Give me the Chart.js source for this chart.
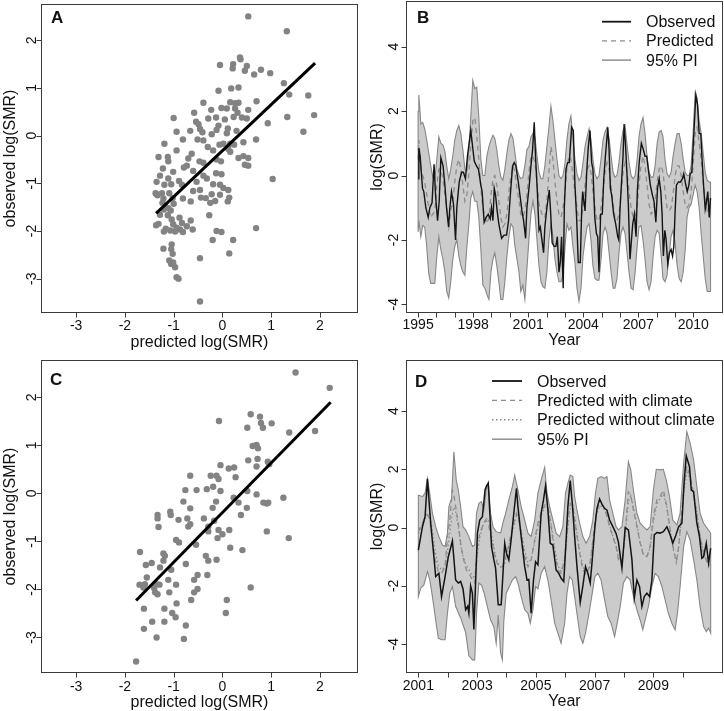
<!DOCTYPE html>
<html>
<head>
<meta charset="utf-8">
<script src="https://cdn.jsdelivr.net/npm/chart.js@4.4.1/dist/chart.umd.min.js"></script>
<style>
  html, body { margin:0; padding:0; background:#fff; }
  #page { position:relative; width:724px; height:711px; overflow:hidden; background:#fff; }
  #page canvas { position:absolute; }
</style>
</head>
<body>
<div id="page">
  <canvas id="chartA" width="362" height="355" style="left:0px;top:0px"></canvas>
  <canvas id="chartB" width="362" height="355" style="left:362px;top:0px"></canvas>
  <canvas id="chartC" width="362" height="356" style="left:0px;top:355px"></canvas>
  <canvas id="chartD" width="362" height="356" style="left:362px;top:355px"></canvas>
</div>
<script>
// ---------------- DATA ----------------
// Panel A: [predicted log(SMR), observed log(SMR)]
const scatterA = [[0.53,2.50],[1.32,2.19],[0.36,1.64],[-0.05,1.48],[0.22,1.50],[0.21,1.41],[0.37,1.60],[0.50,1.46],[0.46,1.36],[0.79,1.38],[0.98,1.31],[0.65,1.28],[1.26,1.10],[0.33,1.01],[0.18,0.99],[-0.08,0.94],[1.37,0.86],[1.76,0.84],[0.70,0.72],[0.16,0.70],[0.26,0.68],[0.33,0.69],[-0.39,0.69],[-0.58,0.48],[-0.23,0.54],[-0.02,0.58],[0.09,0.57],[0.26,0.57],[0.53,0.54],[0.31,0.48],[-1.00,0.37],[1.33,0.39],[1.88,0.43],[0.93,0.26],[1.66,0.08],[0.40,0.38],[0.50,0.36],[0.23,0.39],[0.05,0.34],[-0.13,0.38],[-0.29,0.36],[-0.54,0.29],[-0.49,0.24],[-0.46,0.14],[-0.08,0.21],[0.11,0.15],[-0.66,0.10],[-0.94,0.08],[-0.41,0.07],[-0.22,0.03],[-0.12,0.12],[0.09,0.05],[0.29,0.10],[0.69,-0.08],[-1.19,-0.17],[-0.81,-0.08],[-0.51,-0.08],[-0.39,-0.10],[-0.06,-0.19],[0.02,-0.17],[0.16,-0.17],[0.24,-0.19],[0.43,-0.14],[-0.30,-0.24],[-0.19,-0.31],[0.12,-0.28],[0.16,-0.34],[-0.63,-0.38],[-0.94,-0.31],[-1.31,-0.45],[-1.12,-0.45],[-1.11,-0.54],[-0.70,-0.48],[-0.47,-0.54],[-0.39,-0.57],[-0.12,-0.50],[-0.03,-0.54],[0.33,-0.47],[0.43,-0.43],[0.53,-0.47],[0.46,-0.61],[0.53,-0.63],[-1.22,-0.69],[-1.01,-0.76],[-0.79,-0.67],[-0.73,-0.63],[-0.60,-0.74],[-0.13,-0.79],[-0.02,-0.81],[-0.39,-0.84],[-0.32,-0.90],[1.03,-0.91],[-1.28,-0.84],[-1.11,-0.90],[-0.89,-0.95],[-1.35,-0.97],[-1.19,-1.03],[-1.05,-1.02],[-0.83,-1.03],[-0.53,-0.97],[-0.19,-1.02],[-0.05,-1.03],[0.02,-1.10],[0.12,-1.14],[-0.60,-1.16],[-0.46,-1.14],[-1.09,-1.21],[-1.24,-1.21],[-1.35,-1.23],[-1.21,-1.32],[-1.02,-1.31],[-0.81,-1.32],[-0.65,-1.38],[-0.22,-1.23],[-0.05,-1.24],[0.14,-1.30],[0.11,-1.38],[-0.44,-1.30],[-0.34,-1.31],[-0.25,-1.41],[-0.15,-1.37],[-1.23,-1.41],[-1.18,-1.48],[-1.11,-1.52],[-1.00,-1.43],[-1.28,-1.66],[-1.06,-1.57],[-1.31,-1.85],[-1.36,-1.88],[-1.20,-1.55],[-1.04,-1.76],[-1.01,-1.86],[-0.88,-1.72],[-0.83,-1.83],[-0.73,-1.90],[-0.65,-1.78],[-0.94,-1.93],[-0.87,-1.97],[-0.81,-2.02],[-0.97,-2.01],[-1.07,-1.99],[-1.16,-1.95],[-1.20,-2.01],[-0.61,-1.97],[-0.27,-1.67],[-0.12,-2.00],[-0.02,-2.02],[-0.20,-2.19],[0.22,-2.19],[0.69,-1.94],[-1.21,-2.37],[-1.04,-2.28],[-1.05,-2.38],[-1.02,-2.48],[-0.46,-2.57],[0.14,-2.47],[-1.05,-2.69],[-1.01,-2.66],[-0.97,-2.76],[-0.94,-2.97],[-0.90,-3.00],[-0.46,-3.48],[-1.09,-2.62],[-1.33,-1.25],[-1.12,-1.67],[-1.37,-1.21]];
const fitA = { intercept: -0.316, slope: 0.966, from: -1.36, to: 1.90 };

// Panel C: [predicted log(SMR), observed log(SMR)]
const scatterC = [[1.50,2.52],[2.20,2.20],[0.58,1.65],[0.77,1.60],[-0.07,1.51],[0.79,1.47],[1.01,1.46],[0.51,1.37],[0.83,1.37],[1.37,1.27],[1.90,1.30],[0.62,0.99],[0.70,1.01],[0.73,0.94],[0.53,0.69],[0.72,0.72],[0.93,0.66],[0.96,0.61],[0.70,0.56],[-0.04,0.59],[0.13,0.52],[0.24,0.54],[-0.66,0.37],[-0.24,0.37],[-0.12,0.37],[-0.08,0.30],[0.27,0.34],[-0.19,0.14],[-0.32,0.09],[-0.76,0.07],[-0.53,0.07],[-0.04,0.05],[0.51,0.05],[1.25,-0.09],[0.70,-0.02],[0.23,-0.09],[0.33,-0.19],[0.84,-0.19],[0.91,-0.21],[0.94,-0.19],[-0.80,-0.17],[-0.13,-0.17],[-0.66,-0.31],[-0.20,-0.30],[0.50,-0.30],[0.38,-0.45],[-1.33,-0.45],[-1.33,-0.52],[-1.07,-0.38],[-1.06,-0.45],[-0.38,-0.52],[-0.17,-0.57],[-0.72,-0.52],[-1.31,-0.70],[-0.70,-0.69],[-0.66,-0.64],[-0.29,-0.69],[-0.08,-0.76],[0.14,-0.76],[0.91,-0.79],[1.36,-0.93],[-0.29,-0.79],[-0.90,-0.55],[-0.10,-0.93],[0.00,-0.85],[-0.95,-0.97],[-0.89,-1.02],[-0.54,-1.07],[0.16,-1.13],[0.41,-1.18],[-0.34,-1.30],[-0.12,-1.38],[-0.29,-1.40],[-1.69,-1.22],[-1.21,-1.25],[-1.18,-1.30],[-0.75,-1.47],[-1.57,-1.49],[-1.45,-1.45],[-1.21,-1.40],[-1.28,-1.54],[-1.05,-1.59],[-0.51,-1.70],[-0.31,-1.70],[-1.55,-1.75],[-1.59,-1.89],[-1.62,-1.96],[-1.35,-1.89],[-1.29,-1.90],[-1.11,-1.80],[-0.95,-1.90],[-1.40,-1.97],[-1.38,-2.06],[-1.33,-2.10],[-1.09,-2.06],[-0.58,-1.80],[-0.58,-2.06],[-0.51,-1.99],[0.58,-1.96],[-0.64,-2.22],[0.09,-2.22],[-0.94,-2.29],[-1.61,-2.40],[-1.19,-2.40],[-1.03,-2.49],[-0.96,-2.58],[-1.19,-2.67],[-1.44,-2.67],[-1.61,-2.82],[-0.75,-2.75],[0.07,-2.49],[-1.35,-3.00],[-0.79,-3.03],[-1.77,-3.50],[-1.70,-1.90]];
const fitC = { intercept: -0.398, slope: 1.035, from: -1.77, to: 2.22 };

// Panel B: observed [year, log(SMR)]
const observedB = [[1995.00,-0.10],[1995.04,0.85],[1995.11,0.60],[1995.24,-0.40],[1995.31,-0.50],[1995.42,-1.00],[1995.55,-1.30],[1995.64,-1.00],[1995.76,-0.85],[1995.87,0.35],[1995.95,-0.60],[1996.06,-1.40],[1996.15,-0.80],[1996.24,0.55],[1996.36,0.30],[1996.46,-0.30],[1996.55,-1.00],[1996.66,-1.60],[1996.73,-1.00],[1996.82,-0.50],[1996.93,-0.90],[1997.04,-2.00],[1997.11,-1.00],[1997.24,-0.20],[1997.37,0.10],[1997.47,0.10],[1997.58,-0.10],[1997.69,0.60],[1997.87,1.40],[1997.97,0.90],[1998.06,0.45],[1998.18,0.30],[1998.29,0.20],[1998.42,-0.30],[1998.49,-0.50],[1998.60,-1.45],[1998.71,-1.30],[1998.82,-1.20],[1998.93,-1.35],[1999.00,-1.00],[1999.08,-1.40],[1999.15,-0.40],[1999.22,-0.60],[1999.31,-1.10],[1999.40,-1.50],[1999.55,-1.95],[1999.69,-1.85],[1999.82,-1.85],[1999.93,-1.40],[2000.04,-0.50],[2000.15,0.30],[2000.24,0.40],[2000.33,0.30],[2000.46,-0.20],[2000.55,-0.60],[2000.66,-1.10],[2000.75,-1.40],[2000.86,-1.95],[2000.93,-1.00],[2001.06,-0.30],[2001.15,0.30],[2001.24,0.80],[2001.33,1.65],[2001.40,0.60],[2001.50,-0.50],[2001.59,-1.70],[2001.66,-1.60],[2001.75,-2.00],[2001.84,-2.40],[2001.91,-1.60],[2002.02,-1.00],[2002.15,-0.45],[2002.22,-1.10],[2002.31,-2.10],[2002.42,-2.20],[2002.51,-2.20],[2002.59,-1.90],[2002.68,-3.00],[2002.75,-2.70],[2002.82,-1.90],[2002.91,-3.50],[2002.97,-1.00],[2003.06,0.20],[2003.15,0.40],[2003.24,0.40],[2003.37,1.50],[2003.46,1.40],[2003.55,-0.30],[2003.64,-1.30],[2003.73,-2.70],[2003.84,-2.70],[2003.92,-1.00],[2003.97,-0.50],[2004.10,-1.10],[2004.19,0.10],[2004.28,0.90],[2004.37,1.40],[2004.46,0.40],[2004.53,0.20],[2004.63,-1.30],[2004.72,-1.80],[2004.79,-1.90],[2004.86,-3.00],[2004.95,-1.20],[2005.04,-1.20],[2005.12,-0.10],[2005.21,0.60],[2005.34,1.50],[2005.41,0.80],[2005.48,-0.40],[2005.55,-0.60],[2005.66,-1.20],[2005.77,-1.50],[2005.88,-1.90],[2005.94,-2.00],[2006.01,-1.00],[2006.08,-0.30],[2006.17,0.60],[2006.23,1.60],[2006.30,1.00],[2006.39,0.00],[2006.46,-0.90],[2006.55,-2.60],[2006.63,-2.00],[2006.70,-1.50],[2006.79,-1.20],[2006.88,-1.90],[2006.95,-0.50],[2007.05,0.40],[2007.17,1.00],[2007.28,0.80],[2007.37,0.60],[2007.46,0.60],[2007.57,0.10],[2007.66,-0.30],[2007.77,-0.60],[2007.86,-0.80],[2007.96,-1.45],[2008.05,-0.40],[2008.14,-0.10],[2008.23,-0.50],[2008.30,-1.20],[2008.37,-2.50],[2008.45,-1.70],[2008.52,-2.00],[2008.61,-2.75],[2008.70,-2.40],[2008.79,-2.30],[2008.87,-2.50],[2008.94,-2.20],[2009.01,-1.10],[2009.08,-0.30],[2009.19,-0.20],[2009.30,-0.20],[2009.41,-0.10],[2009.48,0.05],[2009.56,-0.20],[2009.67,-0.50],[2009.76,-0.30],[2009.83,0.05],[2009.92,0.10],[2010.03,1.30],[2010.14,2.50],[2010.23,2.20],[2010.32,1.30],[2010.41,1.30],[2010.48,0.50],[2010.56,-0.30],[2010.65,-1.05],[2010.70,-0.90],[2010.79,-0.50],[2010.87,-1.30],[2010.94,-0.70]];

// Panel B: predicted and 95% PI, read on a common time grid
const timeB = [1995.00,1995.04,1995.15,1995.25,1995.36,1995.47,1995.58,1995.69,1995.80,1995.91,1996.02,1996.13,1996.24,1996.35,1996.46,1996.56,1996.67,1996.78,1996.89,1997.00,1997.11,1997.22,1997.33,1997.44,1997.55,1997.66,1997.77,1997.87,1997.98,1998.09,1998.20,1998.31,1998.42,1998.53,1998.64,1998.75,1998.86,1998.97,1999.08,1999.18,1999.29,1999.40,1999.51,1999.62,1999.73,1999.84,1999.95,2000.06,2000.17,2000.28,2000.39,2000.50,2000.60,2000.71,2000.82,2000.93,2001.04,2001.15,2001.26,2001.37,2001.48,2001.59,2001.70,2001.80,2001.91,2002.02,2002.13,2002.24,2002.35,2002.46,2002.57,2002.68,2002.79,2002.90,2003.01,2003.11,2003.22,2003.33,2003.44,2003.55,2003.66,2003.77,2003.88,2003.99,2004.10,2004.21,2004.32,2004.42,2004.53,2004.64,2004.75,2004.86,2004.97,2005.08,2005.19,2005.30,2005.41,2005.52,2005.63,2005.73,2005.84,2005.95,2006.06,2006.17,2006.28,2006.39,2006.50,2006.61,2006.72,2006.83,2006.94,2007.04,2007.15,2007.26,2007.37,2007.48,2007.59,2007.70,2007.81,2007.92,2008.03,2008.14,2008.25,2008.35,2008.46,2008.57,2008.68,2008.79,2008.90,2009.01,2009.12,2009.23,2009.34,2009.45,2009.56,2009.66,2009.77,2009.88,2009.99,2010.10,2010.21,2010.32,2010.43,2010.54,2010.65,2010.76,2010.87,2010.94];
const predictedB = [0.5,1.1,0.2,0.0,-0.2,-0.6,-1.0,-1.3,-1.2,-1.1,-0.3,0.2,0.2,-0.1,-0.6,-1.0,-1.6,-1.1,-0.8,-0.2,0.3,0.5,0.2,-0.3,-0.8,-0.6,0.1,0.9,1.7,1.8,1.2,0.5,-0.4,-1.0,-1.3,-1.5,-1.3,-0.6,-0.1,0.0,-0.3,-0.8,-1.3,-1.6,-1.5,-1.2,-0.5,0.0,0.3,0.1,-0.4,-0.8,-1.2,-1.3,-1.1,-0.6,0.1,0.6,0.6,0.4,-0.2,-0.9,-1.1,-1.3,-1.3,-0.8,0.1,0.9,0.5,-0.2,-0.8,-1.2,-1.3,-1.0,-0.5,0.2,0.6,0.5,0.0,-0.5,-1.0,-1.4,-1.4,-1.0,-0.3,0.2,0.3,0.1,-0.5,-1.0,-1.4,-1.4,-1.0,-0.5,0.1,0.4,0.2,-0.3,-0.9,-1.3,-1.4,-1.2,-0.6,0.1,0.4,0.1,-0.5,-1.0,-1.3,-1.3,-1.0,-0.3,0.3,0.6,0.3,-0.3,-0.9,-1.2,-1.1,-0.8,-0.2,0.2,0.3,0.1,-0.5,-1.0,-1.1,-1.0,-0.6,0.0,0.3,0.3,0.0,-0.5,-0.9,-1.0,-0.9,-0.5,0.3,1.3,1.5,1.0,0.5,-0.2,-0.8,-1.1,-1.2,-1.2];
const upperB = [2.0,2.5,1.6,1.65,1.45,1.1,0.7,0.3,-0.05,-0.1,0.5,1.2,1.0,0.95,0.75,0.3,-0.1,0.2,0.6,1.1,1.4,1.55,1.3,0.8,0.2,0.15,0.8,1.8,2.95,2.7,2.75,1.8,0.5,0.0,0.0,0.6,0.9,1.1,1.25,1.15,0.8,0.3,-0.05,-0.15,0.2,0.7,1.1,1.3,1.15,0.7,0.2,0.0,-0.1,-0.05,0.3,0.8,0.9,1.2,1.3,1.2,0.6,0.1,-0.1,-0.1,0.3,0.9,1.5,2.15,1.7,1.1,0.5,0.0,-0.1,0.0,0.4,1.1,1.6,1.85,1.15,0.5,0.05,-0.15,-0.05,0.4,0.9,1.2,1.45,1.1,0.5,0.05,-0.1,0.0,0.5,1.1,1.35,1.5,1.15,0.6,0.1,-0.05,0.0,0.4,1.0,1.4,1.55,0.95,0.4,0.0,-0.1,0.0,0.5,1.2,1.6,1.8,1.3,0.6,0.1,-0.05,-0.05,0.3,1.0,1.35,1.4,1.2,0.5,0.05,-0.05,0.1,0.6,1.0,1.3,1.3,1.0,0.5,0.1,0.0,0.0,0.3,1.3,2.55,2.4,1.7,1.3,0.7,0.1,-0.15,-0.2,-0.2];
const lowerB = [-1.75,-1.4,-1.9,-1.55,-1.6,-2.2,-3.05,-3.35,-3.35,-3.35,-2.5,-1.9,-2.3,-2.6,-3.0,-3.6,-3.8,-3.3,-2.6,-2.2,-2.0,-2.5,-2.8,-3.0,-3.1,-2.2,-1.5,-0.7,-0.5,-0.8,-0.8,-1.3,-2.3,-3.4,-3.5,-3.7,-3.85,-3.0,-2.6,-2.4,-2.8,-3.3,-3.85,-3.85,-3.3,-2.5,-1.9,-1.5,-1.6,-2.2,-2.6,-3.0,-3.6,-3.4,-3.85,-2.9,-2.0,-1.2,-0.8,-1.2,-2.0,-2.8,-3.3,-3.45,-3.5,-3.0,-2.0,-1.5,-1.9,-2.6,-3.0,-3.3,-3.3,-3.1,-2.2,-1.5,-1.7,-1.6,-2.2,-2.7,-3.5,-3.9,-3.5,-2.5,-2.0,-1.6,-1.5,-2.0,-2.8,-3.2,-3.25,-3.25,-2.6,-1.8,-1.6,-1.8,-2.4,-3.0,-3.5,-3.5,-3.2,-2.4,-1.8,-1.6,-1.8,-2.4,-3.0,-3.5,-3.55,-3.0,-2.2,-1.6,-1.55,-2.0,-2.6,-3.3,-3.55,-3.3,-2.5,-1.9,-1.7,-1.8,-2.5,-3.2,-3.3,-3.1,-2.5,-1.9,-1.7,-2.1,-2.8,-3.2,-3.3,-3.0,-2.3,-1.3,-1.0,-0.9,-0.6,-0.3,-0.5,-1.0,-1.8,-2.5,-3.2,-3.6,-3.6,-3.6];

// Panel D: observed [year, log(SMR)]
const observedD = [[2001.00,-0.77],[2001.14,0.03],[2001.23,0.38],[2001.31,1.67],[2001.42,0.15],[2001.53,-1.0],[2001.59,-1.68],[2001.65,-1.62],[2001.70,-1.57],[2001.79,-2.37],[2001.91,-1.68],[2002.02,-1.0],[2002.16,-0.46],[2002.27,-1.8],[2002.36,-1.9],[2002.44,-1.85],[2002.52,-2.1],[2002.61,-2.82],[2002.68,-2.7],[2002.72,-2.94],[2002.78,-2.0],[2002.84,-2.25],[2002.89,-3.5],[2003.01,-0.2],[2003.09,0.26],[2003.18,0.37],[2003.27,1.29],[2003.32,1.43],[2003.38,1.52],[2003.44,0.38],[2003.49,-0.65],[2003.57,-1.1],[2003.63,-1.4],[2003.72,-2.65],[2003.82,-2.65],[2003.94,-0.54],[2004.00,-0.88],[2004.08,-1.11],[2004.17,-0.31],[2004.25,0.5],[2004.34,1.35],[2004.39,0.72],[2004.50,-0.31],[2004.62,-1.34],[2004.70,-1.8],[2004.76,-1.78],[2004.84,-2.94],[2004.92,-1.8],[2004.99,-1.17],[2005.07,-1.28],[2005.18,0.49],[2005.26,0.95],[2005.33,1.43],[2005.41,0.6],[2005.49,-0.54],[2005.58,-0.6],[2005.69,-1.45],[2005.78,-1.57],[2005.86,-1.74],[2005.95,-1.85],[2006.03,-0.42],[2006.09,0.72],[2006.17,1.61],[2006.24,0.83],[2006.32,-0.31],[2006.40,-1.34],[2006.51,-2.57],[2006.60,-2.0],[2006.69,-1.34],[2006.77,-1.57],[2006.85,-1.9],[2006.92,-1.1],[2007.01,0.03],[2007.08,0.66],[2007.17,0.98],[2007.26,0.78],[2007.34,0.66],[2007.42,0.6],[2007.51,0.26],[2007.62,0.03],[2007.73,-0.2],[2007.81,-0.5],[2007.93,-1.39],[2008.04,0.0],[2008.15,-0.08],[2008.27,-1.1],[2008.35,-2.42],[2008.44,-1.8],[2008.53,-2.03],[2008.61,-2.71],[2008.69,-2.37],[2008.78,-2.25],[2008.87,-2.37],[2008.95,-1.8],[2009.03,-0.25],[2009.12,-0.17],[2009.23,-0.19],[2009.34,-0.14],[2009.46,0.03],[2009.55,-0.19],[2009.66,-0.54],[2009.75,-0.31],[2009.86,0.03],[2009.97,0.15],[2010.05,1.63],[2010.12,2.46],[2010.23,2.09],[2010.29,1.29],[2010.37,1.23],[2010.48,0.15],[2010.57,-0.31],[2010.65,-1.05],[2010.71,-1.0],[2010.80,-0.54],[2010.88,-1.22],[2010.95,-0.71]];

// Panel D: predictions (with / without climate) on a common time grid
const timePredD = [2001.00,2001.08,2001.19,2001.31,2001.39,2001.48,2001.57,2001.68,2001.79,2001.91,2001.99,2002.07,2002.16,2002.21,2002.27,2002.36,2002.44,2002.52,2002.63,2002.75,2002.84,2002.92,2003.01,2003.09,2003.18,2003.29,2003.38,2003.46,2003.54,2003.63,2003.74,2003.86,2003.95,2004.03,2004.14,2004.25,2004.34,2004.42,2004.50,2004.62,2004.73,2004.84,2004.96,2005.07,2005.18,2005.30,2005.41,2005.52,2005.64,2005.75,2005.86,2005.98,2006.09,2006.17,2006.26,2006.37,2006.49,2006.60,2006.71,2006.83,2006.94,2007.05,2007.17,2007.28,2007.39,2007.51,2007.62,2007.73,2007.81,2007.93,2008.04,2008.15,2008.23,2008.32,2008.44,2008.55,2008.66,2008.78,2008.89,2009.00,2009.12,2009.23,2009.34,2009.46,2009.57,2009.69,2009.78,2009.86,2009.97,2010.05,2010.14,2010.25,2010.37,2010.48,2010.59,2010.71,2010.82,2010.95];
const predWithClimateD = [-0.14,0.03,0.26,0.43,0.30,-0.42,-1.10,-1.50,-1.57,-1.34,-0.31,0.26,1.29,1.12,0.72,0.15,-0.54,-1.00,-1.45,-1.62,-1.80,-1.90,-0.65,-0.20,0.03,0.26,0.15,-0.25,-0.65,-1.10,-1.34,-1.34,-1.10,-0.80,-0.31,0.15,0.49,0.26,-0.19,-1.00,-1.34,-1.10,-0.42,0.15,0.49,0.78,0.72,0.03,-0.88,-1.45,-1.57,-1.10,0.15,0.83,0.72,-0.08,-0.88,-1.45,-1.62,-1.34,-0.42,0.49,0.83,0.78,0.49,0.03,-0.31,-0.65,-1.10,-1.28,-0.19,1.23,1.12,0.60,0.03,-0.54,-0.94,-1.00,-0.65,0.38,0.95,1.06,1.29,0.72,-0.08,-0.77,-1.17,-0.65,0.60,1.52,2.11,1.75,1.18,0.49,-0.31,-0.88,-1.17,-1.34];
const predWithoutClimateD = [-0.20,0.00,0.20,0.50,0.45,-0.10,-0.80,-1.30,-1.45,-1.35,-0.80,-0.20,0.50,0.70,0.55,0.00,-0.60,-1.00,-1.30,-1.50,-1.65,-1.75,-0.90,-0.35,0.00,0.30,0.30,-0.10,-0.50,-1.00,-1.30,-1.40,-1.20,-0.90,-0.40,0.05,0.40,0.30,-0.10,-0.80,-1.20,-1.10,-0.50,0.05,0.40,0.70,0.70,0.10,-0.70,-1.30,-1.50,-1.10,0.00,0.70,0.75,0.00,-0.80,-1.35,-1.55,-1.35,-0.50,0.40,0.75,0.70,0.50,0.10,-0.30,-0.60,-1.00,-1.20,-0.30,0.90,1.10,0.70,0.10,-0.50,-0.90,-1.00,-0.70,0.20,0.80,1.00,1.15,0.70,-0.10,-0.80,-1.20,-0.70,0.50,1.30,1.90,1.70,1.10,0.50,-0.30,-0.85,-1.15,-1.30];

// Panel D: 95% PI bounds [year, log(SMR)]
const upperD = [[2001.00,1.12],[2001.14,1.06],[2001.23,1.18],[2001.31,1.69],[2001.39,1.15],[2001.48,0.49],[2001.59,0.03],[2001.70,-0.31],[2001.82,-0.6],[2001.91,-0.65],[2001.99,-0.2],[2002.04,0.72],[2002.13,1.0],[2002.21,2.6],[2002.29,1.63],[2002.36,1.29],[2002.44,0.72],[2002.52,0.03],[2002.61,-0.08],[2002.72,-0.31],[2002.84,-0.65],[2002.92,-0.6],[2002.98,0.49],[2003.06,0.83],[2003.15,0.89],[2003.23,0.6],[2003.31,1.29],[2003.38,1.55],[2003.46,0.49],[2003.54,0.03],[2003.65,-0.14],[2003.80,-0.19],[2003.89,0.2],[2003.97,0.49],[2004.08,0.95],[2004.20,1.4],[2004.28,1.8],[2004.39,1.29],[2004.50,0.72],[2004.62,0.26],[2004.73,-0.19],[2004.84,-0.31],[2004.96,0.26],[2005.07,1.18],[2005.18,1.63],[2005.30,2.07],[2005.38,1.18],[2005.47,0.72],[2005.58,0.26],[2005.69,-0.19],[2005.81,-0.31],[2005.92,0.03],[2006.01,1.18],[2006.09,1.52],[2006.17,1.8],[2006.26,1.75],[2006.32,1.06],[2006.40,0.6],[2006.49,0.15],[2006.60,-0.31],[2006.71,-0.54],[2006.83,-0.31],[2006.94,0.26],[2007.03,1.18],[2007.11,1.69],[2007.22,1.75],[2007.34,1.69],[2007.42,1.75],[2007.51,0.95],[2007.62,0.49],[2007.73,0.03],[2007.81,-0.08],[2007.93,0.03],[2008.04,0.95],[2008.15,2.26],[2008.23,1.98],[2008.32,1.29],[2008.44,0.49],[2008.55,0.15],[2008.66,0.03],[2008.78,-0.08],[2008.89,0.03],[2009.00,1.29],[2009.10,2.0],[2009.23,1.98],[2009.34,2.0],[2009.44,1.63],[2009.55,1.06],[2009.66,0.26],[2009.80,0.09],[2009.91,0.49],[2010.03,2.2],[2010.14,3.29],[2010.25,2.9],[2010.37,2.32],[2010.48,1.4],[2010.59,0.49],[2010.71,0.15],[2010.95,-0.19]];
const lowerD = [[2001.00,-2.37],[2001.08,-2.08],[2001.19,-1.97],[2001.31,-1.51],[2001.39,-1.80],[2001.48,-2.37],[2001.59,-3.17],[2001.68,-3.79],[2001.79,-3.85],[2001.91,-3.85],[2001.99,-2.94],[2002.07,-2.25],[2002.16,-2.02],[2002.27,-2.70],[2002.44,-3.10],[2002.61,-3.60],[2002.72,-4.40],[2002.84,-4.54],[2002.92,-4.54],[2002.98,-2.94],[2003.06,-1.90],[2003.15,-1.97],[2003.24,-2.25],[2003.35,-2.71],[2003.46,-3.17],[2003.57,-3.40],[2003.65,-3.97],[2003.72,-3.00],[2003.80,-4.30],[2003.86,-4.54],[2003.91,-3.20],[2003.99,-2.25],[2004.11,-2.00],[2004.20,-1.80],[2004.31,-1.68],[2004.39,-1.90],[2004.50,-2.37],[2004.62,-2.82],[2004.73,-2.94],[2004.81,-3.28],[2004.90,-2.82],[2004.99,-2.02],[2005.07,-2.10],[2005.18,-1.57],[2005.30,-1.34],[2005.41,-1.80],[2005.52,-2.48],[2005.64,-3.28],[2005.75,-3.62],[2005.86,-3.97],[2005.98,-3.28],[2006.06,-2.25],[2006.15,-1.68],[2006.24,-1.80],[2006.32,-2.37],[2006.43,-3.17],[2006.51,-3.74],[2006.60,-3.97],[2006.69,-3.62],[2006.81,-2.94],[2006.92,-2.25],[2007.01,-1.68],[2007.11,-1.57],[2007.22,-1.80],[2007.34,-2.48],[2007.45,-3.05],[2007.56,-3.28],[2007.68,-3.74],[2007.79,-3.17],[2007.87,-2.71],[2007.98,-1.90],[2008.10,-1.68],[2008.21,-1.80],[2008.32,-2.35],[2008.44,-2.82],[2008.55,-3.17],[2008.64,-3.51],[2008.72,-3.17],[2008.83,-2.71],[2008.95,-2.02],[2009.06,-1.57],[2009.17,-1.68],[2009.29,-2.02],[2009.40,-2.48],[2009.51,-2.94],[2009.63,-3.28],[2009.74,-3.51],[2009.82,-2.94],[2009.91,-2.02],[2010.03,-0.65],[2010.14,-0.14],[2010.25,-0.42],[2010.37,-1.10],[2010.48,-1.80],[2010.59,-2.71],[2010.71,-3.40],[2010.80,-3.57],[2010.88,-3.45],[2010.95,-3.62]];

// Axis ticks / labels
const scatterTicks = [-3,-2,-1,0,1,2];
const seriesYTicks = [-4,-2,0,2,4];
const yearTicksB = [1995,1996,1997,1998,1999,2000,2001,2002,2003,2004,2005,2006,2007,2008,2009,2010];
const yearLabelsB = [1995,1998,2001,2004,2007,2010];
const yearTicksD = [2001,2002,2003,2004,2005,2006,2007,2008,2009,2010];
const yearLabelsD = [2001,2003,2005,2007,2009];

// ---------------- STYLE ----------------
const FONT = '"Liberation Sans", Arial, Helvetica, sans-serif';
const FRAME = '#3a3a3a';
const TEXT = '#111111';
const OBS_COLOR = '#141414';
const PRED_COLOR = '#8c8c8c';
const BAND_FILL = '#cbcbcb';
const BAND_LINE = '#878787';
const DOT_COLOR = '#838383';

const toXY = arr => arr.map(p => ({x: p[0], y: p[1]}));
const zipXY = (xs, ys) => xs.map((x, i) => ({x: x, y: ys[i]}));
const fitLine = f => [{x: f.from, y: f.intercept + f.slope * f.from}, {x: f.to, y: f.intercept + f.slope * f.to}];
const polygon = (up, lo) => { const p = up.concat(lo.slice().reverse()); p.push(up[0]); return p; };

const rFrame = {
  id: 'rFrame',
  afterDatasetsDraw(chart, args, o) {
    const ctx = chart.ctx, a = chart.chartArea, xs = chart.scales.x, ys = chart.scales.y;
    ctx.save();
    const L = Math.round(a.left) + 0.5, R = Math.round(a.right) - 0.5;
    const T = Math.round(a.top) + 0.5, B = Math.round(a.bottom) - 0.5;
    ctx.strokeStyle = FRAME; ctx.lineWidth = 1; ctx.setLineDash([]);
    ctx.strokeRect(L, T, R - L, B - T);
    ctx.beginPath();
    o.xTicks.forEach(v => { const p = Math.round(xs.getPixelForValue(v)) + 0.5; ctx.moveTo(p, B); ctx.lineTo(p, B + 5); });
    o.yTicks.forEach(v => { const p = Math.round(ys.getPixelForValue(v)) + 0.5; ctx.moveTo(L, p); ctx.lineTo(L - 5, p); });
    ctx.stroke();
    ctx.fillStyle = TEXT;
    ctx.font = '14px ' + FONT;
    ctx.textAlign = 'center'; ctx.textBaseline = 'alphabetic';
    o.xLabels.forEach(v => ctx.fillText(String(v), xs.getPixelForValue(v), o.xLabelY));
    o.yTicks.forEach(v => {
      ctx.save(); ctx.translate(o.yLabelX, ys.getPixelForValue(v)); ctx.rotate(-Math.PI / 2);
      ctx.fillText(String(v), 0, 0); ctx.restore();
    });
    ctx.font = '16px ' + FONT;
    ctx.fillText(o.xTitle, (a.left + a.right) / 2, o.xTitleY);
    ctx.save(); ctx.translate(o.yTitleX, (a.top + a.bottom) / 2); ctx.rotate(-Math.PI / 2);
    ctx.fillText(o.yTitle, 0, 0); ctx.restore();
    ctx.font = 'bold 17px ' + FONT; ctx.textAlign = 'left';
    ctx.fillText(o.letter, o.letterX, o.letterY);
    if (o.legend) {
      const lg = o.legend;
      ctx.font = '16px ' + FONT;
      lg.items.forEach((it, i) => {
        const y = lg.y0 + i * lg.dy;
        ctx.save();
        ctx.strokeStyle = it.color; ctx.lineWidth = it.width; ctx.setLineDash(it.dash);
        ctx.beginPath(); ctx.moveTo(lg.x0, y); ctx.lineTo(lg.x1, y); ctx.stroke();
        ctx.restore();
        ctx.fillStyle = TEXT;
        ctx.fillText(it.label, lg.textX, y + 5.5);
      });
    }
    ctx.restore();
  }
};

const baseOptions = (xmin, xmax, ymin, ymax, pad, frame) => ({
  responsive: false,
  devicePixelRatio: 1,
  animation: false,
  events: [],
  layout: { padding: pad },
  plugins: { legend: { display: false }, tooltip: { enabled: false }, rFrame: frame },
  scales: {
    x: { type: 'linear', display: false, min: xmin, max: xmax },
    y: { type: 'linear', display: false, min: ymin, max: ymax }
  },
  elements: { line: { tension: 0 }, point: { radius: 0 } }
});

function scatterChart(id, pts, fit, pad, frame, ymin, ymax) {
  new Chart(document.getElementById(id), {
    type: 'scatter',
    data: { datasets: [
      { data: fitLine(fit), showLine: true, borderColor: '#000', borderWidth: 3, pointRadius: 0, fill: false },
      { data: toXY(pts), pointRadius: 3.2, pointBackgroundColor: DOT_COLOR, pointBorderWidth: 0, backgroundColor: DOT_COLOR, borderWidth: 0 }
    ]},
    options: baseOptions(-3.72, 2.78, ymin, ymax, pad, frame),
    plugins: [rFrame]
  });
}

scatterChart('chartA', scatterA, fitA, {left: 41, top: 1, right: 4, bottom: 42}, {
  xTicks: scatterTicks, xLabels: scatterTicks, yTicks: scatterTicks,
  xLabelY: 330, yLabelX: 36, xTitle: 'predicted log(SMR)', xTitleY: 347,
  yTitle: 'observed log(SMR)', yTitleX: 15, letter: 'A', letterX: 51, letterY: 23
}, -3.72, 2.76);

scatterChart('chartC', scatterC, fitC, {left: 41, top: 5, right: 4, bottom: 38}, {
  xTicks: scatterTicks, xLabels: scatterTicks, yTicks: scatterTicks,
  xLabelY: 336, yLabelX: 36, xTitle: 'predicted log(SMR)', xTitleY: 352,
  yTitle: 'observed log(SMR)', yTitleX: 15, letter: 'C', letterX: 50, letterY: 30
}, -3.74, 2.78);

new Chart(document.getElementById('chartB'), {
  type: 'line',
  data: { datasets: [
    { data: toXY(observedB), borderColor: OBS_COLOR, borderWidth: 1.4, pointRadius: 0, fill: false },
    { data: zipXY(timeB, predictedB), borderColor: PRED_COLOR, borderWidth: 1.3, borderDash: [5, 4], pointRadius: 0, fill: false },
    { data: polygon(zipXY(timeB, upperB), zipXY(timeB, lowerB)), borderColor: BAND_LINE, borderWidth: 1.1, backgroundColor: BAND_FILL, pointRadius: 0, fill: 'shape' }
  ]},
  options: baseOptions(1994.34, 2011.62, -4.27, 5.42, {left: 44, top: 1, right: 1, bottom: 42}, {
    xTicks: yearTicksB, xLabels: yearLabelsB, yTicks: seriesYTicks,
    xLabelY: 329, yLabelX: 36, xTitle: 'Year', xTitleY: 345,
    yTitle: 'log(SMR)', yTitleX: 20, letter: 'B', letterX: 55, letterY: 23,
    legend: { x0: 240, x1: 269, textX: 284, y0: 21.7, dy: 19.2, items: [
      { label: 'Observed', color: OBS_COLOR, width: 1.8, dash: [] },
      { label: 'Predicted', color: PRED_COLOR, width: 1.4, dash: [5, 4] },
      { label: '95% PI', color: BAND_LINE, width: 1.4, dash: [] }
    ]}
  }),
  plugins: [rFrame]
});

new Chart(document.getElementById('chartD'), {
  type: 'line',
  data: { datasets: [
    { data: toXY(observedD), borderColor: OBS_COLOR, borderWidth: 1.5, pointRadius: 0, fill: false },
    { data: zipXY(timePredD, predWithClimateD), borderColor: PRED_COLOR, borderWidth: 1.3, borderDash: [5, 4], pointRadius: 0, fill: false },
    { data: zipXY(timePredD, predWithoutClimateD), borderColor: PRED_COLOR, borderWidth: 1.3, borderDash: [1.5, 2.5], pointRadius: 0, fill: false },
    { data: polygon(toXY(upperD), toXY(lowerD)), borderColor: BAND_LINE, borderWidth: 1.1, backgroundColor: BAND_FILL, pointRadius: 0, fill: 'shape' }
  ]},
  options: baseOptions(2000.58, 2011.37, -4.99, 5.75, {left: 44, top: 5, right: 1, bottom: 38}, {
    xTicks: yearTicksD, xLabels: yearLabelsD, yTicks: seriesYTicks,
    xLabelY: 335, yLabelX: 36, xTitle: 'Year', xTitleY: 351,
    yTitle: 'log(SMR)', yTitleX: 20, letter: 'D', letterX: 53, letterY: 32,
    legend: { x0: 130, x1: 160, textX: 175, y0: 26, dy: 19.4, items: [
      { label: 'Observed', color: OBS_COLOR, width: 1.8, dash: [] },
      { label: 'Predicted with climate', color: PRED_COLOR, width: 1.4, dash: [5, 4] },
      { label: 'Predicted without climate', color: PRED_COLOR, width: 1.4, dash: [1.5, 2.5] },
      { label: '95% PI', color: BAND_LINE, width: 1.4, dash: [] }
    ]}
  }),
  plugins: [rFrame]
});
</script>
</body>
</html>
